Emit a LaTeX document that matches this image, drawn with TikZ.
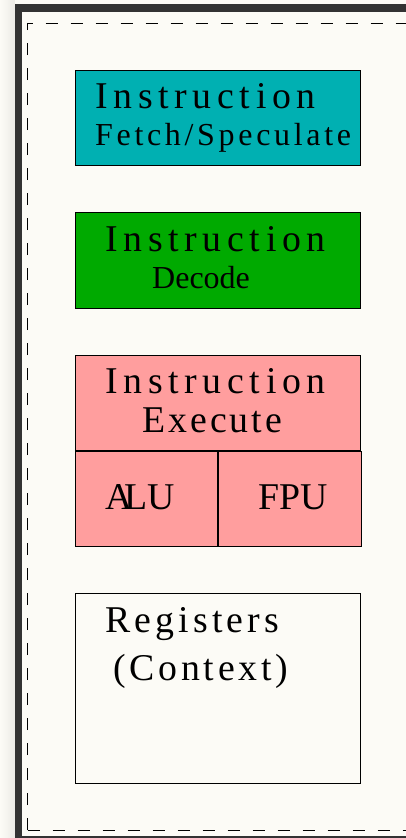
\documentclass[tikz,border=0pt]{standalone}
\usepackage{xcolor}
\usepackage{fontspec}
\usepackage{tikz}

\setmainfont{Liberation Serif}
\newfontfamily\boxfont{Liberation Serif}

\definecolor{fetchcol}{RGB}{0,176,178}
\definecolor{decodecol}{RGB}{0,170,0}
\definecolor{execcol}{RGB}{255,158,158}
\definecolor{paper}{RGB}{252,251,246}
\definecolor{frame}{RGB}{51,51,51}
\definecolor{shade}{RGB}{236,235,230}

% letter-spaced label text
\newcommand{\spread}[2]{{\addfontfeature{LetterSpace=#1}#2}}

\begin{document}
\begin{tikzpicture}[x=1pt, y=-1pt,
    unit/.style={rectangle, draw, line width=1pt, inner sep=0pt, anchor=north west},
    lbl/.style={inner sep=0pt, anchor=base west, font=\boxfont\fontsize{37.8}{40}\selectfont},
    sublbl/.style={lbl, font=\boxfont\fontsize{32}{34}\selectfont},
    border/.style={line width=1pt, dash pattern=on 12pt off 13pt}]
    \useasboundingbox (0,0) rectangle (406,838);

    % window frame and page
    \shade[left color=paper, right color=shade] (0,0) rectangle (15,838);
    \fill[paper] (15,0) rectangle (406,4);
    \fill[frame] (15,4) rectangle (420,850);
    \fill[paper] (22,12) rectangle (415,836);
    \draw[border] (27.5,830) -- (27.5,23) -- (420,23);
    \draw[border] (27.5,830) -- (420,830);

    % pipeline stages
    \node[unit, fill=fetchcol, minimum width=285, minimum height=95] (fetch) at (75,70) {};
    \node[unit, fill=decodecol, minimum width=285, minimum height=96] (decode) at (75,212) {};
    \node[unit, fill=execcol, minimum width=285, minimum height=95] (exec) at (75,355) {};
    \node[unit, fill=execcol, minimum width=142, minimum height=95] (alu) at (exec.south west) {};
    \node[unit, fill=execcol, minimum width=143, minimum height=95] (fpu) at (alu.north east) {};
    \node[unit, minimum width=285, minimum height=190] (regs) at (75,593) {};

    \node[lbl] (fetchA) at ([shift={(20,38)}]fetch.north west) {\spread{15}{Instruction}};
    \node[sublbl] (fetchB) at ([shift={(20,75)}]fetch.north west) {\spread{11.5}{Fetch/Speculate}};
    \node[lbl] (decodeA) at ([shift={(30,39)}]decode.north west) {\spread{15}{Instruction}};
    \node[sublbl] (decodeB) at ([shift={(77,76)}]decode.north west) {Decode};
    \node[lbl] (execA) at ([shift={(30,38)}]exec.north west) {\spread{15}{Instruction}};
    \node[lbl] (execB) at ([shift={(67,77)}]exec.north west) {\spread{8}{Execute}};
    \node[lbl] (aluA) at ([shift={(30,58)}]alu.north west) {A\kern-8pt LU};
    \node[lbl] (fpuA) at ([shift={(40,58)}]fpu.north west) {FPU};
    \node[lbl] (regsA) at ([shift={(30,39)}]regs.north west) {\spread{11}{Registers}};
    \node[lbl] (regsB) at ([shift={(38,87)}]regs.north west) {\spread{10}{(Context)}};
\end{tikzpicture}
\end{document}
